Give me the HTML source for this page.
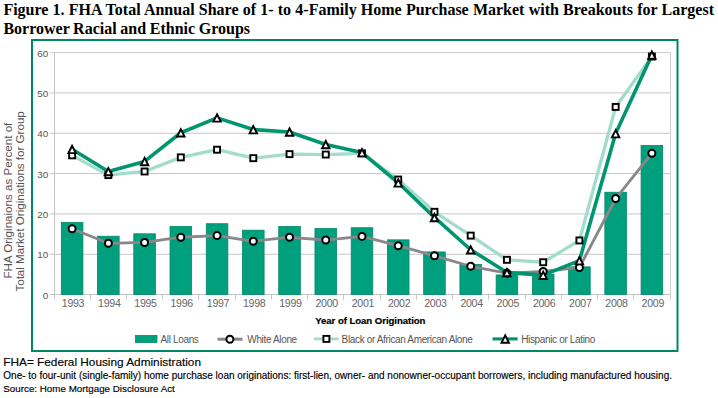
<!DOCTYPE html>
<html><head><meta charset="utf-8"><style>
html,body{margin:0;padding:0;background:#fff;width:718px;height:398px;overflow:hidden}
svg{position:absolute;left:0;top:0}
.ti{font-family:"Liberation Serif",serif;font-weight:bold;font-size:16px;fill:#000}
.ft{font-family:"Liberation Sans",sans-serif;fill:#000;stroke:#000;stroke-width:0.15px}
.tk{font-family:"Liberation Sans",sans-serif;font-size:9.9px;letter-spacing:0.15px;fill:#555}
.yr{font-family:"Liberation Sans",sans-serif;font-size:10.6px;letter-spacing:-0.3px;fill:#666}
.xt{font-family:"Liberation Sans",sans-serif;font-weight:bold;font-size:9.6px;letter-spacing:-0.05px;fill:#000;stroke:#000;stroke-width:0.2px}
.yt{font-family:"Liberation Sans",sans-serif;font-size:11.6px;fill:#555}
.lg{font-family:"Liberation Sans",sans-serif;font-size:10px;letter-spacing:-0.35px;fill:#555}
</style></head><body>
<svg width="718" height="398" viewBox="0 0 718 398">
<text x="3.4" y="14.8" class="ti" style="word-spacing:0.2px">Figure 1. FHA Total Annual Share of 1- to 4-Family Home Purchase Market with Breakouts for Largest</text>
<text x="3.4" y="34.1" class="ti" style="word-spacing:-0.35px">Borrower Racial and Ethnic Groups</text>
<rect x="32" y="40" width="645.5" height="311" fill="none" stroke="#008763" stroke-width="2"/>
<line x1="54.5" y1="254.27" x2="670.5" y2="254.27" stroke="#c6c6c6" stroke-width="1"/>
<line x1="49.5" y1="254.27" x2="54.5" y2="254.27" stroke="#c8c8c8" stroke-width="1"/>
<line x1="54.5" y1="213.93" x2="670.5" y2="213.93" stroke="#c6c6c6" stroke-width="1"/>
<line x1="49.5" y1="213.93" x2="54.5" y2="213.93" stroke="#c8c8c8" stroke-width="1"/>
<line x1="54.5" y1="173.6" x2="670.5" y2="173.6" stroke="#c6c6c6" stroke-width="1"/>
<line x1="49.5" y1="173.6" x2="54.5" y2="173.6" stroke="#c8c8c8" stroke-width="1"/>
<line x1="54.5" y1="133.27" x2="670.5" y2="133.27" stroke="#c6c6c6" stroke-width="1"/>
<line x1="49.5" y1="133.27" x2="54.5" y2="133.27" stroke="#c8c8c8" stroke-width="1"/>
<line x1="54.5" y1="92.93" x2="670.5" y2="92.93" stroke="#c6c6c6" stroke-width="1"/>
<line x1="49.5" y1="92.93" x2="54.5" y2="92.93" stroke="#c8c8c8" stroke-width="1"/>
<line x1="54.5" y1="52.6" x2="670.5" y2="52.6" stroke="#c6c6c6" stroke-width="1"/>
<line x1="49.5" y1="52.6" x2="54.5" y2="52.6" stroke="#c8c8c8" stroke-width="1"/>
<line x1="54.5" y1="52.5" x2="54.5" y2="294.5" stroke="#c4c4c4" stroke-width="1"/>
<line x1="49.5" y1="294.5" x2="670.5" y2="294.5" stroke="#c4c4c4" stroke-width="1"/>
<line x1="670.5" y1="52.5" x2="670.5" y2="294.5" stroke="#d0d0d0" stroke-width="1"/>
<line x1="54.5" y1="294.5" x2="54.5" y2="299.5" stroke="#c4c4c4" stroke-width="1"/>
<line x1="90.5" y1="294.5" x2="90.5" y2="299.5" stroke="#c4c4c4" stroke-width="1"/>
<line x1="126.5" y1="294.5" x2="126.5" y2="299.5" stroke="#c4c4c4" stroke-width="1"/>
<line x1="162.5" y1="294.5" x2="162.5" y2="299.5" stroke="#c4c4c4" stroke-width="1"/>
<line x1="198.5" y1="294.5" x2="198.5" y2="299.5" stroke="#c4c4c4" stroke-width="1"/>
<line x1="235.5" y1="294.5" x2="235.5" y2="299.5" stroke="#c4c4c4" stroke-width="1"/>
<line x1="271.5" y1="294.5" x2="271.5" y2="299.5" stroke="#c4c4c4" stroke-width="1"/>
<line x1="307.5" y1="294.5" x2="307.5" y2="299.5" stroke="#c4c4c4" stroke-width="1"/>
<line x1="343.5" y1="294.5" x2="343.5" y2="299.5" stroke="#c4c4c4" stroke-width="1"/>
<line x1="380.5" y1="294.5" x2="380.5" y2="299.5" stroke="#c4c4c4" stroke-width="1"/>
<line x1="416.5" y1="294.5" x2="416.5" y2="299.5" stroke="#c4c4c4" stroke-width="1"/>
<line x1="452.5" y1="294.5" x2="452.5" y2="299.5" stroke="#c4c4c4" stroke-width="1"/>
<line x1="488.5" y1="294.5" x2="488.5" y2="299.5" stroke="#c4c4c4" stroke-width="1"/>
<line x1="525.5" y1="294.5" x2="525.5" y2="299.5" stroke="#c4c4c4" stroke-width="1"/>
<line x1="561.5" y1="294.5" x2="561.5" y2="299.5" stroke="#c4c4c4" stroke-width="1"/>
<line x1="597.5" y1="294.5" x2="597.5" y2="299.5" stroke="#c4c4c4" stroke-width="1"/>
<line x1="633.5" y1="294.5" x2="633.5" y2="299.5" stroke="#c4c4c4" stroke-width="1"/>
<line x1="670.5" y1="294.5" x2="670.5" y2="299.5" stroke="#c4c4c4" stroke-width="1"/>
<text x="48.5" y="298.5" text-anchor="end" class="tk">0</text>
<text x="48.5" y="258.2" text-anchor="end" class="tk">10</text>
<text x="48.5" y="217.8" text-anchor="end" class="tk">20</text>
<text x="48.5" y="177.5" text-anchor="end" class="tk">30</text>
<text x="48.5" y="137.2" text-anchor="end" class="tk">40</text>
<text x="48.5" y="96.8" text-anchor="end" class="tk">50</text>
<text x="48.5" y="56.5" text-anchor="end" class="tk">60</text>
<text x="73.0" y="306.7" text-anchor="middle" class="yr">1993</text>
<text x="109.3" y="306.7" text-anchor="middle" class="yr">1994</text>
<text x="145.5" y="306.7" text-anchor="middle" class="yr">1995</text>
<text x="181.7" y="306.7" text-anchor="middle" class="yr">1996</text>
<text x="218.0" y="306.7" text-anchor="middle" class="yr">1997</text>
<text x="254.2" y="306.7" text-anchor="middle" class="yr">1998</text>
<text x="290.4" y="306.7" text-anchor="middle" class="yr">1999</text>
<text x="326.7" y="306.7" text-anchor="middle" class="yr">2000</text>
<text x="362.9" y="306.7" text-anchor="middle" class="yr">2001</text>
<text x="399.1" y="306.7" text-anchor="middle" class="yr">2002</text>
<text x="435.4" y="306.7" text-anchor="middle" class="yr">2003</text>
<text x="471.6" y="306.7" text-anchor="middle" class="yr">2004</text>
<text x="507.8" y="306.7" text-anchor="middle" class="yr">2005</text>
<text x="544.1" y="306.7" text-anchor="middle" class="yr">2006</text>
<text x="580.3" y="306.7" text-anchor="middle" class="yr">2007</text>
<text x="616.5" y="306.7" text-anchor="middle" class="yr">2008</text>
<text x="652.8" y="306.7" text-anchor="middle" class="yr">2009</text>
<rect x="61.32" y="222.50" width="21.6" height="72.00" fill="#00a07f" stroke="#008a63" stroke-width="0.8"/>
<rect x="97.55" y="236.22" width="21.6" height="58.28" fill="#00a07f" stroke="#008a63" stroke-width="0.8"/>
<rect x="133.79" y="233.80" width="21.6" height="60.70" fill="#00a07f" stroke="#008a63" stroke-width="0.8"/>
<rect x="170.02" y="226.54" width="21.6" height="67.96" fill="#00a07f" stroke="#008a63" stroke-width="0.8"/>
<rect x="206.26" y="223.71" width="21.6" height="70.79" fill="#00a07f" stroke="#008a63" stroke-width="0.8"/>
<rect x="242.49" y="230.17" width="21.6" height="64.33" fill="#00a07f" stroke="#008a63" stroke-width="0.8"/>
<rect x="278.73" y="226.54" width="21.6" height="67.96" fill="#00a07f" stroke="#008a63" stroke-width="0.8"/>
<rect x="314.96" y="228.56" width="21.6" height="65.94" fill="#00a07f" stroke="#008a63" stroke-width="0.8"/>
<rect x="351.20" y="227.75" width="21.6" height="66.75" fill="#00a07f" stroke="#008a63" stroke-width="0.8"/>
<rect x="387.44" y="239.85" width="21.6" height="54.65" fill="#00a07f" stroke="#008a63" stroke-width="0.8"/>
<rect x="423.67" y="251.95" width="21.6" height="42.55" fill="#00a07f" stroke="#008a63" stroke-width="0.8"/>
<rect x="459.91" y="264.45" width="21.6" height="30.05" fill="#00a07f" stroke="#008a63" stroke-width="0.8"/>
<rect x="496.14" y="274.94" width="21.6" height="19.56" fill="#00a07f" stroke="#008a63" stroke-width="0.8"/>
<rect x="532.38" y="274.13" width="21.6" height="20.37" fill="#00a07f" stroke="#008a63" stroke-width="0.8"/>
<rect x="568.61" y="266.87" width="21.6" height="27.63" fill="#00a07f" stroke="#008a63" stroke-width="0.8"/>
<rect x="604.85" y="192.25" width="21.6" height="102.25" fill="#00a07f" stroke="#008a63" stroke-width="0.8"/>
<rect x="641.08" y="145.47" width="21.6" height="149.03" fill="#00a07f" stroke="#008a63" stroke-width="0.8"/>
<polyline points="72.12,228.76 108.35,243.28 144.59,242.47 180.82,237.23 217.06,235.61 253.29,241.26 289.53,237.23 325.76,240.05 362.00,236.42 398.24,245.70 434.47,255.78 470.71,266.27 506.94,273.12 543.18,271.51 579.41,267.48 615.65,198.51 651.88,153.33" fill="none" stroke="#8a868a" stroke-width="2.8" stroke-linejoin="round"/>
<polyline points="72.12,155.35 108.35,175.11 144.59,171.48 180.82,157.37 217.06,149.70 253.29,158.17 289.53,154.14 325.76,154.54 362.00,153.33 398.24,179.55 434.47,211.82 470.71,235.61 506.94,259.81 543.18,262.23 579.41,240.45 615.65,106.95 651.88,56.53" fill="none" stroke="#a2dccc" stroke-width="3.3" stroke-linejoin="round"/>
<polyline points="72.12,149.30 108.35,171.48 144.59,161.40 180.82,132.76 217.06,117.84 253.29,129.54 289.53,131.96 325.76,144.46 362.00,152.53 398.24,182.78 434.47,217.46 470.71,249.73 506.94,272.52 543.18,275.14 579.41,260.62 615.65,133.57 651.88,54.92" fill="none" stroke="#00956f" stroke-width="3.6" stroke-linejoin="round"/>
<circle cx="72.12" cy="228.76" r="3.5" fill="#fff" stroke="#000" stroke-width="2"/>
<circle cx="108.35" cy="243.28" r="3.5" fill="#fff" stroke="#000" stroke-width="2"/>
<circle cx="144.59" cy="242.47" r="3.5" fill="#fff" stroke="#000" stroke-width="2"/>
<circle cx="180.82" cy="237.23" r="3.5" fill="#fff" stroke="#000" stroke-width="2"/>
<circle cx="217.06" cy="235.61" r="3.5" fill="#fff" stroke="#000" stroke-width="2"/>
<circle cx="253.29" cy="241.26" r="3.5" fill="#fff" stroke="#000" stroke-width="2"/>
<circle cx="289.53" cy="237.23" r="3.5" fill="#fff" stroke="#000" stroke-width="2"/>
<circle cx="325.76" cy="240.05" r="3.5" fill="#fff" stroke="#000" stroke-width="2"/>
<circle cx="362.00" cy="236.42" r="3.5" fill="#fff" stroke="#000" stroke-width="2"/>
<circle cx="398.24" cy="245.70" r="3.5" fill="#fff" stroke="#000" stroke-width="2"/>
<circle cx="434.47" cy="255.78" r="3.5" fill="#fff" stroke="#000" stroke-width="2"/>
<circle cx="470.71" cy="266.27" r="3.5" fill="#fff" stroke="#000" stroke-width="2"/>
<circle cx="506.94" cy="273.12" r="3.5" fill="#fff" stroke="#000" stroke-width="2"/>
<circle cx="543.18" cy="271.51" r="3.5" fill="#fff" stroke="#000" stroke-width="2"/>
<circle cx="579.41" cy="267.48" r="3.5" fill="#fff" stroke="#000" stroke-width="2"/>
<circle cx="615.65" cy="198.51" r="3.5" fill="#fff" stroke="#000" stroke-width="2"/>
<circle cx="651.88" cy="153.33" r="3.5" fill="#fff" stroke="#000" stroke-width="2"/>
<rect x="69.12" y="152.35" width="6.0" height="6.0" fill="#fff" stroke="#000" stroke-width="1.9"/>
<rect x="105.35" y="172.11" width="6.0" height="6.0" fill="#fff" stroke="#000" stroke-width="1.9"/>
<rect x="141.59" y="168.48" width="6.0" height="6.0" fill="#fff" stroke="#000" stroke-width="1.9"/>
<rect x="177.82" y="154.37" width="6.0" height="6.0" fill="#fff" stroke="#000" stroke-width="1.9"/>
<rect x="214.06" y="146.70" width="6.0" height="6.0" fill="#fff" stroke="#000" stroke-width="1.9"/>
<rect x="250.29" y="155.17" width="6.0" height="6.0" fill="#fff" stroke="#000" stroke-width="1.9"/>
<rect x="286.53" y="151.14" width="6.0" height="6.0" fill="#fff" stroke="#000" stroke-width="1.9"/>
<rect x="322.76" y="151.54" width="6.0" height="6.0" fill="#fff" stroke="#000" stroke-width="1.9"/>
<rect x="359.00" y="150.33" width="6.0" height="6.0" fill="#fff" stroke="#000" stroke-width="1.9"/>
<rect x="395.24" y="176.55" width="6.0" height="6.0" fill="#fff" stroke="#000" stroke-width="1.9"/>
<rect x="431.47" y="208.82" width="6.0" height="6.0" fill="#fff" stroke="#000" stroke-width="1.9"/>
<rect x="467.71" y="232.61" width="6.0" height="6.0" fill="#fff" stroke="#000" stroke-width="1.9"/>
<rect x="503.94" y="256.81" width="6.0" height="6.0" fill="#fff" stroke="#000" stroke-width="1.9"/>
<rect x="540.18" y="259.23" width="6.0" height="6.0" fill="#fff" stroke="#000" stroke-width="1.9"/>
<rect x="576.41" y="237.45" width="6.0" height="6.0" fill="#fff" stroke="#000" stroke-width="1.9"/>
<rect x="612.65" y="103.95" width="6.0" height="6.0" fill="#fff" stroke="#000" stroke-width="1.9"/>
<rect x="648.88" y="53.53" width="6.0" height="6.0" fill="#fff" stroke="#000" stroke-width="1.9"/>
<polygon points="72.12,145.80 68.42,153.10 75.82,153.10" fill="#fff" stroke="#000" stroke-width="1.9" stroke-linejoin="miter"/>
<polygon points="108.35,167.98 104.65,175.28 112.05,175.28" fill="#fff" stroke="#000" stroke-width="1.9" stroke-linejoin="miter"/>
<polygon points="144.59,157.90 140.89,165.20 148.29,165.20" fill="#fff" stroke="#000" stroke-width="1.9" stroke-linejoin="miter"/>
<polygon points="180.82,129.26 177.12,136.56 184.52,136.56" fill="#fff" stroke="#000" stroke-width="1.9" stroke-linejoin="miter"/>
<polygon points="217.06,114.34 213.36,121.64 220.76,121.64" fill="#fff" stroke="#000" stroke-width="1.9" stroke-linejoin="miter"/>
<polygon points="253.29,126.04 249.59,133.34 256.99,133.34" fill="#fff" stroke="#000" stroke-width="1.9" stroke-linejoin="miter"/>
<polygon points="289.53,128.46 285.83,135.76 293.23,135.76" fill="#fff" stroke="#000" stroke-width="1.9" stroke-linejoin="miter"/>
<polygon points="325.76,140.96 322.06,148.26 329.46,148.26" fill="#fff" stroke="#000" stroke-width="1.9" stroke-linejoin="miter"/>
<polygon points="362.00,149.03 358.30,156.33 365.70,156.33" fill="#fff" stroke="#000" stroke-width="1.9" stroke-linejoin="miter"/>
<polygon points="398.24,179.28 394.54,186.58 401.94,186.58" fill="#fff" stroke="#000" stroke-width="1.9" stroke-linejoin="miter"/>
<polygon points="434.47,213.96 430.77,221.26 438.17,221.26" fill="#fff" stroke="#000" stroke-width="1.9" stroke-linejoin="miter"/>
<polygon points="470.71,246.23 467.01,253.53 474.41,253.53" fill="#fff" stroke="#000" stroke-width="1.9" stroke-linejoin="miter"/>
<polygon points="506.94,269.02 503.24,276.32 510.64,276.32" fill="#fff" stroke="#000" stroke-width="1.9" stroke-linejoin="miter"/>
<polygon points="543.18,271.64 539.48,278.94 546.88,278.94" fill="#fff" stroke="#000" stroke-width="1.9" stroke-linejoin="miter"/>
<polygon points="579.41,257.12 575.71,264.42 583.11,264.42" fill="#fff" stroke="#000" stroke-width="1.9" stroke-linejoin="miter"/>
<polygon points="615.65,130.07 611.95,137.37 619.35,137.37" fill="#fff" stroke="#000" stroke-width="1.9" stroke-linejoin="miter"/>
<polygon points="651.88,51.42 648.18,58.72 655.58,58.72" fill="#fff" stroke="#000" stroke-width="1.9" stroke-linejoin="miter"/>
<text x="370.3" y="324.2" text-anchor="middle" class="xt">Year of Loan Origination</text>
<text transform="translate(11.8,200.65) rotate(-90)" text-anchor="middle" class="yt">FHA Originaions as Percent of</text>
<text transform="translate(24.3,201.4) rotate(-90)" text-anchor="middle" class="yt">Total Market Originations for Group</text>
<rect x="135.5" y="335.5" width="21.5" height="7" fill="#00a07f" stroke="#008a63" stroke-width="0.8"/>
<text x="160.5" y="342.8" class="lg">All Loans</text>
<line x1="217.5" y1="339.2" x2="242.5" y2="339.2" stroke="#8a868a" stroke-width="3"/>
<circle cx="229.90" cy="339.20" r="3.5" fill="#fff" stroke="#000" stroke-width="2"/>
<text x="247.3" y="342.8" class="lg">White Alone</text>
<line x1="313.8" y1="338.9" x2="338.6" y2="338.9" stroke="#a2dccc" stroke-width="2.8"/>
<rect x="323.40" y="335.90" width="6.0" height="6.0" fill="#fff" stroke="#000" stroke-width="1.9"/>
<text x="341.6" y="342.8" class="lg">Black or African American Alone</text>
<line x1="492.5" y1="338.9" x2="517.6" y2="338.9" stroke="#00956f" stroke-width="3.1"/>
<polygon points="505.20,335.40 501.50,342.70 508.90,342.70" fill="#fff" stroke="#000" stroke-width="1.9" stroke-linejoin="miter"/>
<text x="521.2" y="342.8" class="lg">Hispanic or Latino</text>
<text x="3.3" y="365.6" class="ft" style="font-size:11.8px">FHA= Federal Housing Administration</text>
<text x="3.3" y="378.8" class="ft" style="font-size:10px">One- to four-unit (single-family) home purchase loan originations: first-lien, owner- and nonowner-occupant borrowers, including manufactured housing.</text>
<text x="3.3" y="391.5" class="ft" style="font-size:9.8px">Source: Home Mortgage Disclosure Act</text>
</svg>
</body></html>
